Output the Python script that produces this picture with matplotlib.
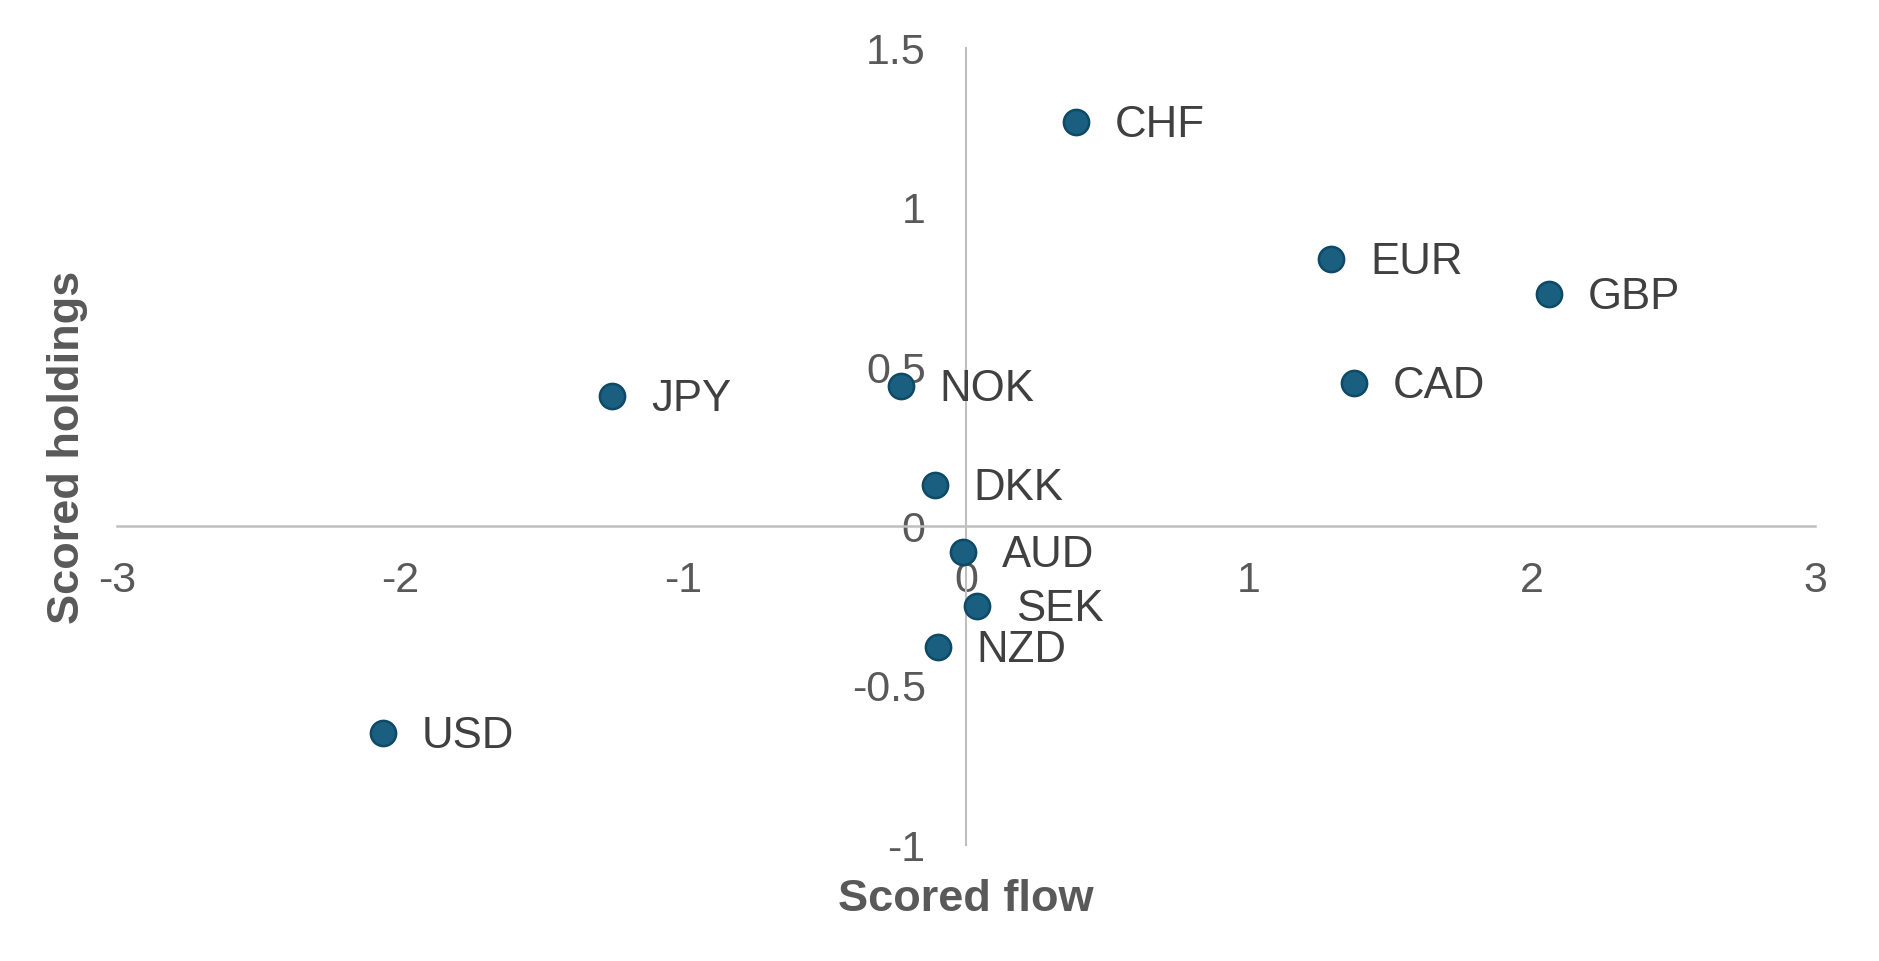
import matplotlib
matplotlib.use('Agg')
import matplotlib.pyplot as plt

# currencies: scored flow (x) vs scored holdings (y)
currencies = ['CHF', 'EUR', 'GBP', 'CAD', 'JPY', 'NOK', 'DKK', 'AUD', 'SEK', 'NZD', 'USD']
scored_flow = [0.39, 1.29, 2.06, 1.37, -1.25, -0.23, -0.11, -0.01, 0.04, -0.10, -2.06]
scored_holdings = [1.27, 0.84, 0.73, 0.45, 0.41, 0.44, 0.13, -0.08, -0.25, -0.38, -0.65]

x_ticks = [-3, -2, -1, 0, 1, 2, 3]
y_ticks = [-1, -0.5, 0, 0.5, 1, 1.5]

plt.rcParams['font.family'] = ['Liberation Sans', 'DejaVu Sans']

fig = plt.figure(figsize=(18.79, 9.61), dpi=100)
ax = fig.add_axes([0.0623, 0.1207, 0.9036, 0.829])

ax.scatter(scored_flow, scored_holdings, s=330, color='#1A5F80',
           edgecolor='#0E4A66', linewidth=1.8, zorder=3)
for name, x, y in zip(currencies, scored_flow, scored_holdings):
    ax.annotate(name, (x, y), xytext=(28, -2.5), textcoords='offset points',
                ha='left', va='center', fontsize=31.5, color='#404040')

ax.set_xlim(-3, 3)
ax.set_ylim(-1, 1.5)
ax.set_xticks(x_ticks)
ax.set_yticks(y_ticks)
ax.set_xticklabels([f'{t:g}' for t in x_ticks])
ax.set_yticklabels([f'{t:g}' for t in y_ticks])

for s in ['top', 'right']:
    ax.spines[s].set_visible(False)
ax.spines['left'].set_position(('data', 0))
ax.spines['bottom'].set_position(('data', 0))
ax.spines['left'].set_color('#BFBFBF')
ax.spines['bottom'].set_color('#BFBFBF')
ax.spines['left'].set_linewidth(1.5)
ax.spines['bottom'].set_linewidth(1.8)

ax.tick_params(axis='x', length=0, pad=25, labelsize=31, labelcolor='#595959')
ax.tick_params(axis='y', length=0, pad=29, labelsize=31, labelcolor='#595959')

fig.text(0.036, 0.5345, 'Scored holdings', rotation=90, ha='center', va='center',
         fontsize=32.5, fontweight='bold', color='#595959')
fig.text(0.514, 0.064, 'Scored flow', ha='center', va='center',
         fontsize=32.5, fontweight='bold', color='#595959')

fig.savefig('out.png', dpi=100)
